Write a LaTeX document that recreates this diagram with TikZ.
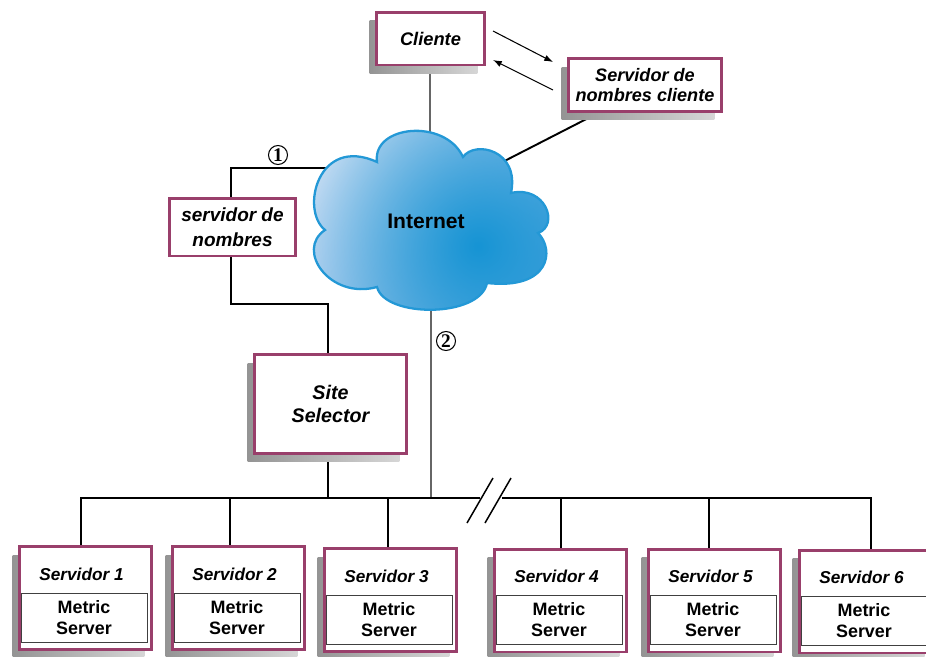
\documentclass[tikz,border=0pt]{standalone}
\usepackage{fontspec}
\newfontfamily\hv{Liberation Sans}
\newfontfamily\tms{Liberation Serif}
\usetikzlibrary{shadows,backgrounds,arrows.meta,fadings,shadings}
\definecolor{boxred}{RGB}{153,63,107}
\definecolor{cedge}{RGB}{35,152,214}
\definecolor{cdark}{RGB}{22,148,212}
\definecolor{cul}{RGB}{204,225,244}
\definecolor{cur}{RGB}{120,182,230}
\definecolor{cll}{RGB}{168,204,238}
\definecolor{clr}{RGB}{70,160,218}
\tikzfading[name=spotfade, inner color=transparent!0, outer color=transparent!100]
\tikzset{
  shad/.style={general shadow={shadow xshift=-0.14cm, shadow yshift=-0.17cm, left color=black!42, right color=black!16}},
  mbox/.style={draw=boxred, line width=1.7pt, fill=white, align=center, inner sep=0pt, font=\hv\bfseries\itshape},
  srvbox/.style={mbox, shad, minimum width=2.64cm, minimum height=2.06cm},
  metricbox/.style={draw=black!75, line width=0.5pt, fill=white, minimum width=2.52cm, minimum height=0.98cm, inner sep=0pt, align=center, font=\hv\bfseries\fontsize{10.2}{12}\selectfont},
  srvlabel/.style={inner sep=0pt, font=\hv\bfseries\itshape\fontsize{9.8}{12}\selectfont},
  conn/.style={line width=1.1pt, black},
  drop/.style={line width=0.85pt, black},
  gline/.style={line width=0.7pt, black!60},
  arr/.style={line width=0.6pt, -{Latex[length=5pt,width=3.6pt]}},
  numc/.style={circle, draw, line width=0.6pt, inner sep=0pt, minimum size=0.38cm, font=\tms\bfseries\fontsize{11}{11}\selectfont},
}
\newcommand\srvnode[4]{%
  \node[srvbox] (#1) at (#2,#3) {};
  \node[metricbox] (#1m) at ([xshift=-0.03cm,yshift=-0.39cm]#1.center) {Metric\\Server};
  \node[srvlabel] (#1t) at ([xshift=-0.08cm,yshift=0.48cm]#1.center) {Servidor #4};
}
\newcommand\cloudpath{%
  (377,162) .. controls (372,125) and (445,118) .. (463,157)
  .. controls (475,140) and (520,150) .. (511,193)
  .. controls (545,185) and (560,225) .. (538,233)
  .. controls (555,250) and (550,290) .. (487,283)
  .. controls (480,318) and (385,318) .. (377,287)
  .. controls (330,300) and (295,250) .. (325,230)
  .. controls (300,210) and (318,135) .. (377,162) -- cycle}
\begin{document}
\begin{tikzpicture}[x=0.02cm, y=-0.02cm]
\useasboundingbox (0,0) rectangle (926,656);
\clip (0,0) rectangle (926,656);

% boxes
\node[mbox, shad, minimum width=2.16cm, minimum height=1.06cm, font=\hv\bfseries\itshape\fontsize{10.4}{12}\selectfont] (cli) at (430.5,38.5) {Cliente};
\node[mbox, shad, minimum width=3.06cm, minimum height=1.06cm, font=\hv\bfseries\itshape\fontsize{10.3}{11}\selectfont] (snc) at (645,85) {Servidor de\\nombres cliente};
\node[mbox, minimum width=2.52cm, minimum height=1.16cm, font=\hv\bfseries\itshape\fontsize{10.8}{14}\selectfont] (sn) at (232.5,227) {servidor de\\nombres};
\node[mbox, shad, minimum width=3.04cm, minimum height=1.98cm, font=\hv\bfseries\itshape\fontsize{11.2}{13.6}\selectfont] (ss) at (330.5,404) {Site\\Selector};

\srvnode{s1}{85.5}{598}{1}
\srvnode{s2}{238.5}{598}{2}
\srvnode{s3}{390.5}{600}{3}
\srvnode{s4}{560.5}{600.5}{4}
\srvnode{s5}{714.5}{600.5}{5}
\srvnode{s6}{865.5}{601.5}{6}

% cloud
\begin{scope}
\clip \cloudpath;
\shade[upper left=cul, upper right=cur, lower left=cll, lower right=clr] (305,125) rectangle (555,315);
\fill[cdark, path fading=spotfade] (478,246) circle (3.4cm);
\end{scope}
\draw[cedge, line width=1.3pt] \cloudpath;
\node[font=\hv\bfseries\fontsize{12}{14}\selectfont] (inet) at (426,221) {Internet};

% numbers
\node[numc] (n1) at (278,155) {1};
\node[numc] (n2) at (446,341) {2};

% connectors
\coordinate (clTop) at (430,150);
\coordinate (clBot) at (431,290);
\coordinate (clL) at (335,168);
\coordinate (clR) at (485,171);
\coordinate (snTop) at (231,168);
\coordinate (snB) at (231,304);
\coordinate (ssT) at (328,304);
\coordinate (sncB) at (602,111);
\coordinate (ssb) at (328,498);
\coordinate (busI) at (431,498);
\coordinate (busL) at (81,498);
\coordinate (busB1) at (480,498);
\coordinate (busB2) at (502,498);
\coordinate (busR) at (871,498);
\coordinate (d2) at (230,498);
\coordinate (d3) at (388,498);
\coordinate (d4) at (561,498);
\coordinate (d5) at (709,498);
\coordinate (k1a) at (467,523);
\coordinate (k1b) at (493,478);
\coordinate (k2a) at (485,523);
\coordinate (k2b) at (511,478);
\coordinate (a1s) at (493,31);
\coordinate (a1e) at (553,62);
\coordinate (a2s) at (553,90);
\coordinate (a2e) at (493,60);

\begin{scope}[on background layer]
\draw[gline] (clTop) -- (clTop |- cli.south);
\draw[gline] (clBot) -- (busI);
\draw[conn] (clL) -- (snTop) -- (snTop |- sn.north);
\draw[conn] (snB |- sn.south) -- (snB) -- (ssT) -- (ssT |- ss.north);
\draw[conn] (sncB) -- (clR);
\draw[conn] (ssb) -- (ssb |- ss.south);
\draw[conn] (busL |- s1.north) -- (busL) -- (busB1);
\draw[conn] (busB2) -- (busR) -- (busR |- s6.north);
\draw[drop] (d2) -- (d2 |- s2.north);
\draw[drop] (d3) -- (d3 |- s3.north);
\draw[drop] (d4) -- (d4 |- s4.north);
\draw[drop] (d5) -- (d5 |- s5.north);
\end{scope}
\draw[drop] (k1a) -- (k1b);
\draw[drop] (k2a) -- (k2b);
\draw[arr] (a1s) -- (a1e);
\draw[arr] (a2s) -- (a2e);
\end{tikzpicture}
\end{document}
